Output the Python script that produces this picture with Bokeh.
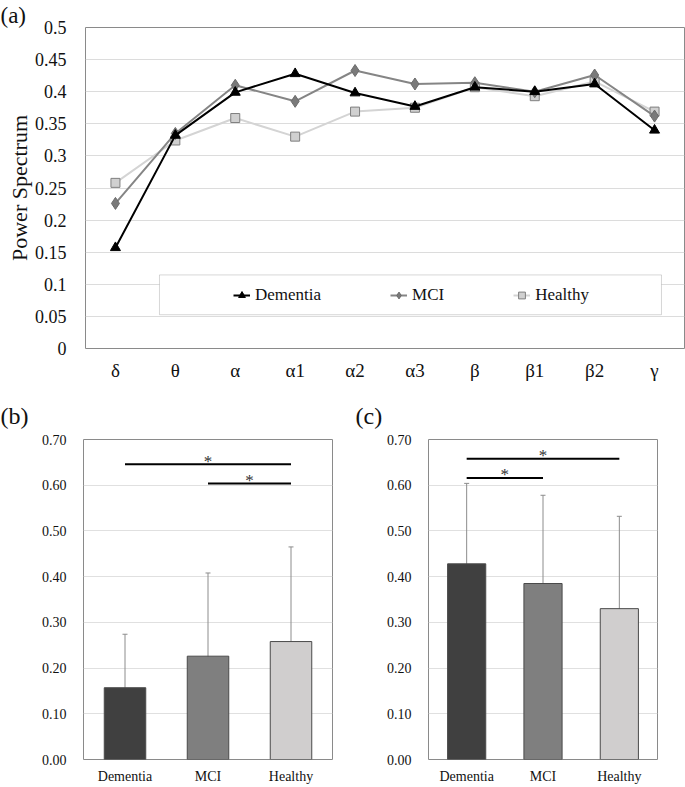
from bokeh.plotting import figure
from bokeh.models import (Range1d, FixedTicker, NumeralTickFormatter, Legend, LegendItem,
                          BoxAnnotation, Whisker, TeeHead, ColumnDataSource)
from bokeh.layouts import column, row
from bokeh.embed import file_html
from bokeh.resources import INLINE
from bokeh.core.properties import value

# ---------------- data ----------------
bands = ["δ", "θ", "α", "α1", "α2", "α3", "β", "β1", "β2", "γ"]
dementia = [0.157, 0.332, 0.399, 0.428, 0.398, 0.377, 0.407, 0.400, 0.412, 0.340]
mci = [0.226, 0.335, 0.410, 0.385, 0.433, 0.412, 0.414, 0.400, 0.426, 0.362]
healthy = [0.258, 0.324, 0.359, 0.330, 0.369, 0.375, 0.407, 0.393, 0.416, 0.369]

groups = ["Dementia", "MCI", "Healthy"]
delta_mean = [0.157, 0.226, 0.258]
delta_sd = [0.117, 0.182, 0.207]
alpha1_mean = [0.428, 0.385, 0.330]
alpha1_sd = [0.176, 0.193, 0.202]

# significance brackets: (from group, to group, level)
delta_sig = [("Dementia", "Healthy", 0.646), ("MCI", "Healthy", 0.604)]
alpha1_sig = [("Dementia", "Healthy", 0.658), ("Dementia", "MCI", 0.616)]

line_ticks = [0, 0.05, 0.1, 0.15, 0.2, 0.25, 0.3, 0.35, 0.4, 0.45, 0.5]
bar_ticks = [0, 0.1, 0.2, 0.3, 0.4, 0.5, 0.6, 0.7]

bar_colors = ["#404040", "#7f7f7f", "#d0cece"]

SERIF = "Liberation Serif"


def style_title(p, text, size, offset, standoff):
    p.title.text = text
    p.title.text_font = SERIF
    p.title.text_font_size = size
    p.title.text_font_style = "normal"
    p.title.text_color = "#111111"
    p.title.align = "left"
    p.title.offset = offset
    p.title.standoff = standoff


# ---------------- panel (a) ----------------
src = ColumnDataSource(dict(band=bands, dementia=dementia, mci=mci, healthy=healthy))

pa = figure(x_range=bands, y_range=Range1d(0, 0.5), width=685, height=385,
            output_backend="svg", toolbar_location=None,
            min_border_left=85, min_border_right=1, min_border_top=25, min_border_bottom=37)
style_title(pa, "(a)", "23px", -85, 0)
pa.outline_line_color = "#8a8a8a"
pa.outline_line_width = 1
pa.xgrid.grid_line_color = None
pa.ygrid.grid_line_color = "#dcdcdc"
pa.yaxis.ticker = FixedTicker(ticks=line_ticks)
pa.yaxis.formatter = NumeralTickFormatter(format="0.[00]")
for ax in (pa.xaxis[0], pa.yaxis[0]):
    ax.axis_line_color = None
    ax.major_tick_line_color = None
    ax.minor_tick_line_color = None
    ax.major_label_text_font = SERIF
    ax.major_label_text_color = "#111111"
pa.yaxis.major_label_text_font_size = "18px"
pa.xaxis.major_label_text_font_size = "19px"
pa.yaxis.major_label_standoff = 13
pa.xaxis.major_label_standoff = 5
pa.yaxis.axis_label = "Power Spectrum"
pa.yaxis.axis_label_text_font = SERIF
pa.yaxis.axis_label_text_font_size = "22px"
pa.yaxis.axis_label_text_font_style = "normal"
pa.yaxis.axis_label_text_color = "#111111"
pa.yaxis.axis_label_standoff = 0

l_h = pa.line("band", "healthy", source=src, line_color="#d4d4d4", line_width=2)
s_h = pa.scatter("band", "healthy", source=src, marker="square", size=9,
                 fill_color="#d0d0d0", line_color="#7f7f7f", line_width=1)
l_m = pa.line("band", "mci", source=src, line_color="#858585", line_width=2)
s_m = pa.scatter("band", "mci", source=src, marker="diamond", size=12,
                 fill_color="#7a7a7a", line_color="#6a6a6a", line_width=1)
l_d = pa.line("band", "dementia", source=src, line_color="#000000", line_width=2)
s_d = pa.scatter("band", "dementia", source=src, marker="triangle", size=10,
                 fill_color="#000000", line_color="#000000")

# legend frame (white box with grey border)
pa.add_layout(BoxAnnotation(left=1.235, right=9.616, bottom=0.0526, top=0.1146,
                            fill_color="white", fill_alpha=1,
                            line_color="#7a7a7a", line_width=1))
legend = Legend(items=[LegendItem(label="Dementia", renderers=[l_d, s_d]),
                       LegendItem(label="MCI", renderers=[l_m, s_m]),
                       LegendItem(label="Healthy", renderers=[l_h, s_h])],
                orientation="horizontal", location=(148, 43),
                label_text_font=SERIF, label_text_font_size="17px",
                label_text_color="#111111",
                glyph_width=17, glyph_height=20, label_height=20, label_standoff=5,
                spacing=69, padding=0, margin=0,
                border_line_color=None, background_fill_alpha=0)
pa.add_layout(legend, "center")


# ---------------- panels (b), (c) ----------------
def bar_panel(tag, tag_offset, tag_standoff, means, sds, sig, width, left, right, top):
    lower = [m - s for m, s in zip(means, sds)]
    upper = [m + s for m, s in zip(means, sds)]
    bsrc = ColumnDataSource(dict(group=groups, mean=means, lower=lower, upper=upper,
                                 color=bar_colors))
    p = figure(x_range=groups, y_range=Range1d(0, 0.7), width=width, height=401,
               output_backend="svg", toolbar_location=None,
               min_border_left=left, min_border_right=right,
               min_border_top=top, min_border_bottom=23)
    style_title(p, tag, "24px", tag_offset, tag_standoff)
    p.outline_line_color = "#8a8a8a"
    p.xgrid.grid_line_color = None
    p.ygrid.grid_line_color = "#e0e0e0"
    p.yaxis.ticker = FixedTicker(ticks=bar_ticks)
    p.yaxis.formatter = NumeralTickFormatter(format="0.00")
    for ax in (p.xaxis[0], p.yaxis[0]):
        ax.axis_line_color = None
        ax.major_tick_line_color = None
        ax.minor_tick_line_color = None
        ax.major_label_text_font = SERIF
        ax.major_label_text_font_size = "14px"
        ax.major_label_text_color = "#111111"
    p.yaxis.major_label_standoff = 11
    p.xaxis.major_label_standoff = 3

    p.vbar(x="group", top="mean", width=0.5, source=bsrc, fill_color="color",
           line_color="#4a4a4a", line_width=1)
    p.add_layout(Whisker(source=bsrc, base="group", lower="lower", upper="upper",
                         line_color="#8c8c8c", line_width=1,
                         upper_head=TeeHead(size=5, line_color="#8c8c8c", line_width=1),
                         lower_head=TeeHead(size=5, line_color="#8c8c8c", line_width=1)))
    x0 = [groups.index(a) + 0.5 for a, b, lvl in sig]
    x1 = [groups.index(b) + 0.5 for a, b, lvl in sig]
    ys = [lvl for a, b, lvl in sig]
    p.segment(x0=x0, y0=ys, x1=x1, y1=ys, line_color="black", line_width=2)
    p.text(x=[(a + b) / 2 for a, b in zip(x0, x1)], y=ys, text=["*"] * len(ys),
           text_font=value(SERIF), text_font_size="17px", text_align="center",
           text_baseline="alphabetic", y_offset=-3, text_color="#333333")
    return p


pb = bar_panel("(b)", -83, 22, delta_mean, delta_sd, delta_sig, 340, 83, 8, 52)
pc = bar_panel("(c)", -73, 22, alpha1_mean, alpha1_sd, alpha1_sig, 345, 88, 28, 54)

layout = column(pa, row(pb, pc))
open("out.html", "w").write(file_html(layout, INLINE))
